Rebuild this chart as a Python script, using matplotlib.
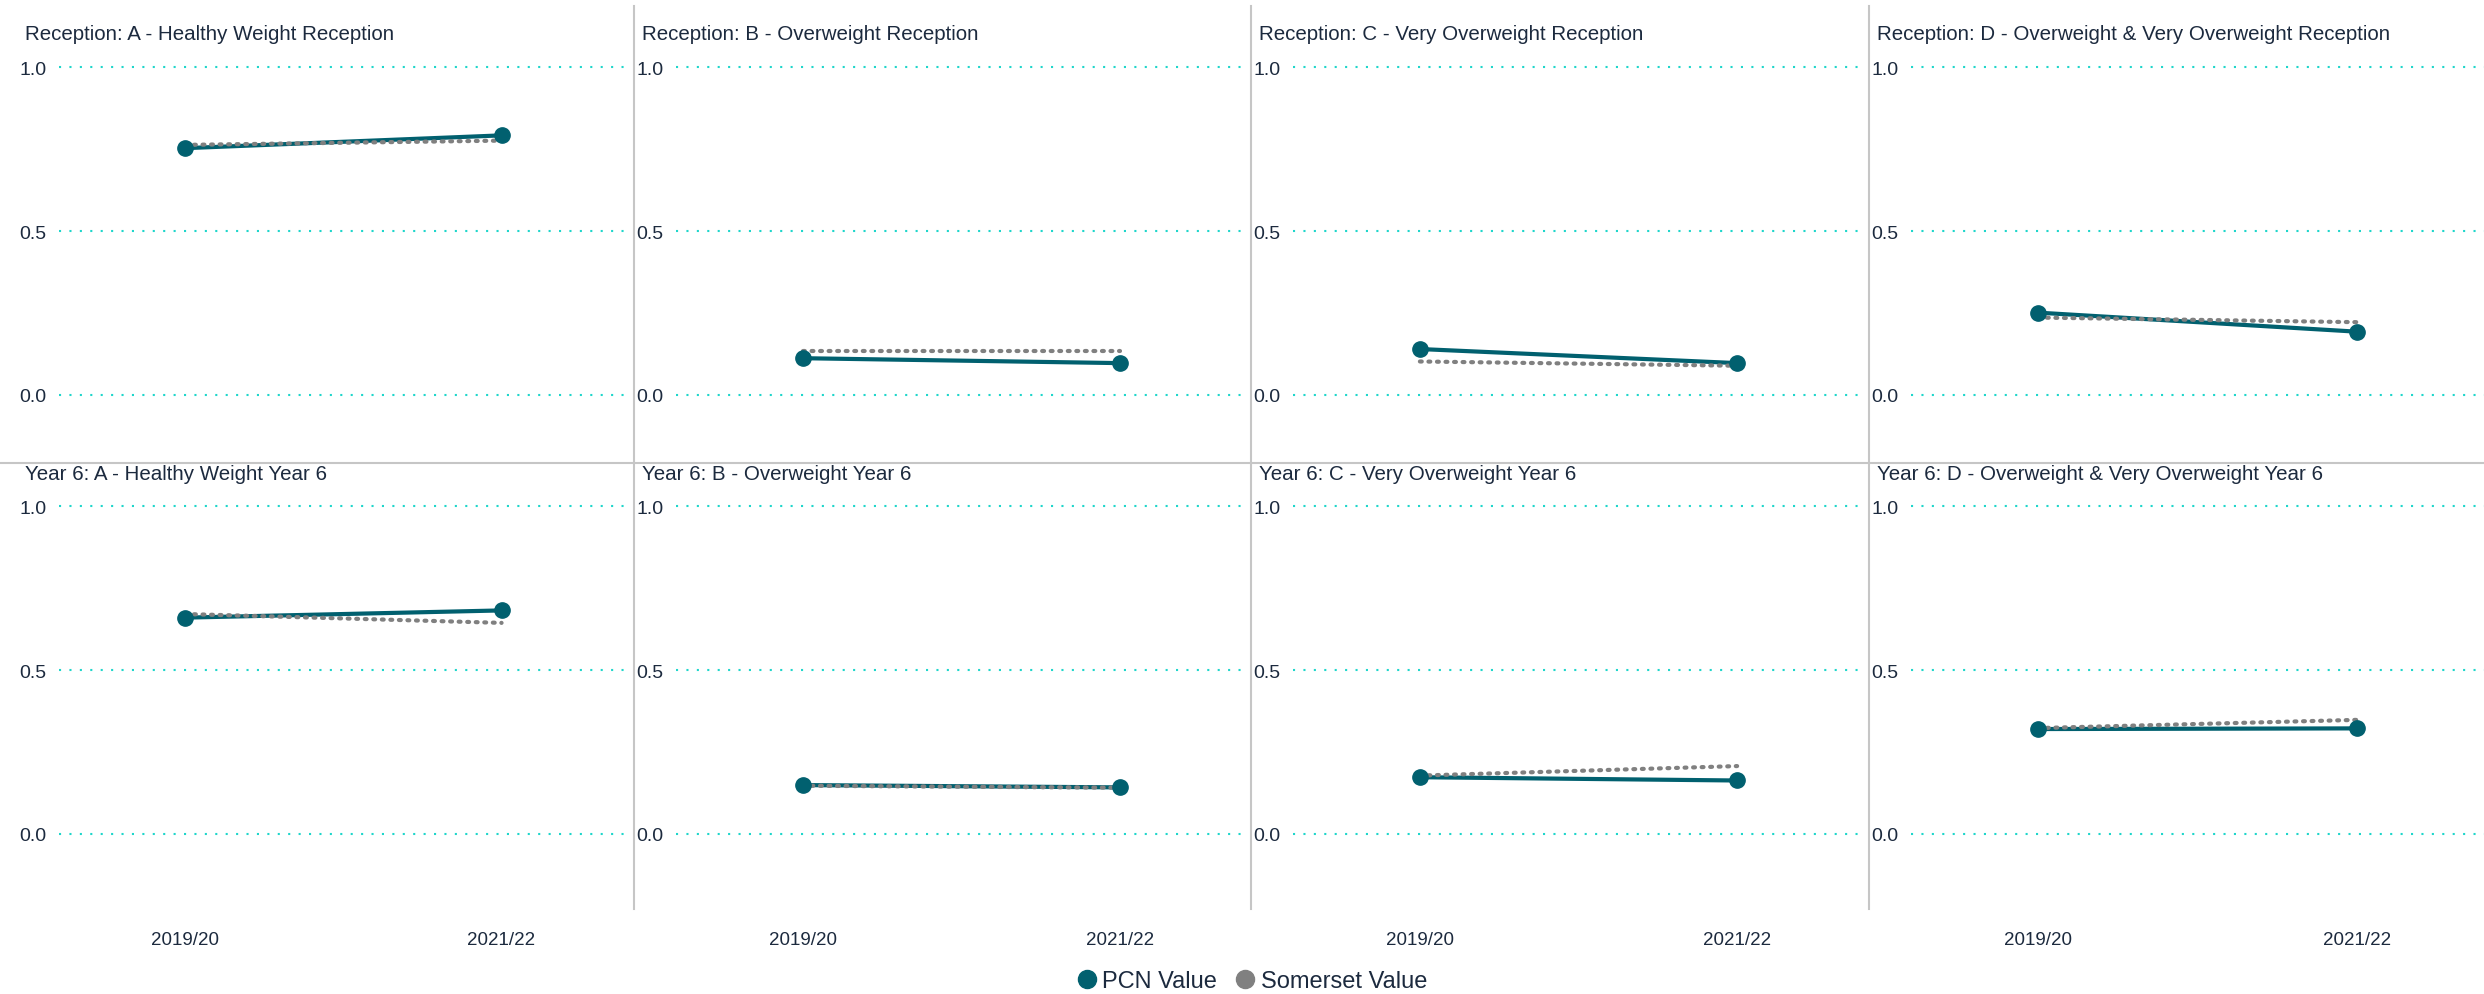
import matplotlib
matplotlib.use("Agg")
import matplotlib.pyplot as plt
from matplotlib.lines import Line2D

plt.rcParams['font.family'] = ['Liberation Sans', 'DejaVu Sans']

# ---- data ----
years = ["2019/20", "2021/22"]
titles_top = [
    "Reception: A - Healthy Weight Reception",
    "Reception: B - Overweight Reception",
    "Reception: C - Very Overweight Reception",
    "Reception: D - Overweight & Very Overweight Reception",
]
titles_bottom = [
    "Year 6: A - Healthy Weight Year 6",
    "Year 6: B - Overweight Year 6",
    "Year 6: C - Very Overweight Year 6",
    "Year 6: D - Overweight & Very Overweight Year 6",
]
pcn_reception = [[0.753, 0.792], [0.112, 0.097], [0.140, 0.097], [0.251, 0.193]]
somerset_reception = [[0.763, 0.776], [0.134, 0.134], [0.102, 0.089], [0.236, 0.222]]
pcn_year6 = [[0.660, 0.682], [0.149, 0.142], [0.173, 0.163], [0.320, 0.322]]
somerset_year6 = [[0.671, 0.644], [0.147, 0.141], [0.178, 0.207], [0.323, 0.348]]
yticks = [0.0, 0.5, 1.0]
ytick_labels = ["0.0", "0.5", "1.0"]
series_names = ["PCN Value", "Somerset Value"]

# ---- style ----
PCN_C = "#01606F"
SOM_C = "#808080"
GRID_C = "#1FD6CB"
TEXT_C = "#1C2A3E"
SEP_C = "#C6C6C6"

W, H = 2484, 995
fig = plt.figure(figsize=(W / 100, H / 100), dpi=100)

seps = [0, 634, 1251, 1869]
ax_left = [59, 676, 1293, 1911]
ax_right = [628, 1247, 1864, 2484]
rows = [(42, 468), (481, 907)]
title_y = [35, 475]

data_rows = [(titles_top, pcn_reception, somerset_reception),
             (titles_bottom, pcn_year6, somerset_year6)]

x = list(range(len(years)))
for r, (ttls, pcn, som) in enumerate(data_rows):
    top, bot = rows[r]
    for c in range(4):
        l, rr = ax_left[c], ax_right[c]
        ax = fig.add_axes([l / W, 1 - bot / H, (rr - l) / W, (bot - top) / H])
        ax.set_xlim(-0.4, 1.4)
        ax.set_ylim(-0.22, 1.08)
        for s in ax.spines.values():
            s.set_visible(False)
        for yv in yticks:
            ax.axhline(yv, color=GRID_C, lw=1.5, linestyle=(0, (1, 4)), zorder=1)
        ax.plot(x, pcn[c], color=PCN_C, lw=3.0, solid_capstyle='round', zorder=2)
        ax.plot(x, som[c], color=SOM_C, lw=3.0, linestyle=(0, (0.45, 1.6)),
                dash_capstyle='round', zorder=3)
        ax.plot(x, pcn[c], linestyle='none', marker='o', markersize=11,
                color=PCN_C, zorder=4)
        ax.set_yticks(yticks)
        ax.set_yticklabels(ytick_labels)
        ax.tick_params(axis='y', length=0, pad=9, labelsize=14, labelcolor=TEXT_C)
        ax.set_xticks(x)
        if r == 1:
            ax.set_xticklabels(years)
            ax.tick_params(axis='x', length=0, pad=18, labelsize=13.5, labelcolor=TEXT_C)
        else:
            ax.set_xticklabels([])
            ax.tick_params(axis='x', length=0)
        fig.text((seps[c] + (25 if c == 0 else 8)) / W, 1 - title_y[r] / H, ttls[c],
                 ha='left', va='center', fontsize=14.8, color=TEXT_C)

# separators
for sx in seps[1:]:
    fig.add_artist(Line2D([sx / W, sx / W], [1 - 7 / H, 1 - 910 / H],
                          color=SEP_C, lw=1.5))
fig.add_artist(Line2D([0, 1], [1 - 464 / H, 1 - 464 / H], color=SEP_C, lw=1.5))

# legend
handles = [Line2D([], [], linestyle='none', marker='o', markersize=13, color=PCN_C),
           Line2D([], [], linestyle='none', marker='o', markersize=13, color=SOM_C)]
fig.legend(handles, series_names, loc='center', bbox_to_anchor=(1251 / W, 1 - 982 / H),
           ncol=2, frameon=False, fontsize=17, handletextpad=0.15, columnspacing=0.7,
           handlelength=1.0, labelcolor=TEXT_C)

fig.savefig("out.png", dpi=100)
